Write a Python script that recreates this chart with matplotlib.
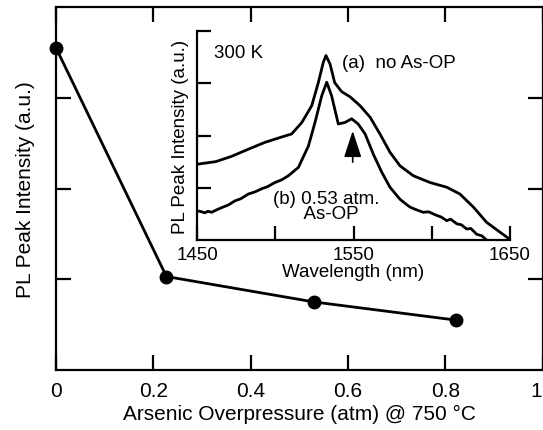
import matplotlib
matplotlib.use("Agg")
import matplotlib.pyplot as plt

plt.rcParams['font.family'] = ['Liberation Sans', 'DejaVu Sans']

# Main data
pressure = [0.0, 0.227, 0.53, 0.822]
intensity = [3.55, 1.03, 0.75, 0.55]
xticks_main = [0, 0.2, 0.4, 0.6, 0.8, 1]
xticklabels_main = ["0", "0.2", "0.4", "0.6", "0.8", "1"]

# Inset spectra
wl_a = [1450, 1462, 1472, 1483, 1493.5, 1504, 1510.5, 1517, 1523.3, 1527.5, 1530.7,
        1532.4, 1535, 1538, 1542.4, 1547.8, 1554.2, 1560.6, 1566.9, 1573.3, 1579.7,
        1588.2, 1598.9, 1609.6, 1618, 1626.6, 1635, 1643.6, 1649.6]
int_a = [1.45, 1.50, 1.60, 1.74, 1.87, 1.97, 2.03, 2.25, 2.57, 3.01, 3.40,
         3.53, 3.37, 3.01, 2.84, 2.74, 2.57, 2.35, 2.03, 1.68, 1.42,
         1.23, 1.10, 1.01, 0.88, 0.63, 0.34, 0.15, 0.02]
wl_b = [1450, 1453, 1455, 1457, 1459.4, 1462, 1465.8, 1470, 1474.3, 1478, 1482.8,
        1487, 1491.3, 1495, 1499.8, 1504, 1508.4, 1514.8, 1521.2, 1525.4, 1529.7,
        1532.9, 1536, 1540.3, 1544.6, 1548.8, 1553, 1557.4, 1562.7, 1568, 1573.3,
        1579.7, 1583, 1586.1, 1590, 1594.6, 1598, 1603.2, 1606, 1609.6, 1612,
        1616, 1619, 1622.3, 1625, 1628.7, 1632, 1635]
int_b = [0.56, 0.54, 0.52, 0.55, 0.53, 0.57, 0.62, 0.67, 0.75, 0.79, 0.88,
         0.92, 0.98, 1.02, 1.10, 1.15, 1.23, 1.39, 1.80, 2.25, 2.76,
         3.02, 2.76, 2.22, 2.25, 2.32, 2.22, 2.03, 1.64, 1.30, 1.01,
         0.78, 0.70, 0.63, 0.58, 0.53, 0.54, 0.47, 0.44, 0.37, 0.40,
         0.31, 0.29, 0.21, 0.22, 0.11, 0.08, 0.0]
inset_xticks = [1450, 1500, 1550, 1600, 1650]
inset_xticklabels = ["1450", "", "1550", "", "1650"]

fig = plt.figure(figsize=(5.43, 4.31), dpi=100)
ax = fig.add_axes([56/543, (431-371)/431, (542.5-56)/543, (371-8)/431])
ax.plot(pressure, intensity, color='black', lw=2.0, marker='o', ms=9,
        markerfacecolor='black', clip_on=False, zorder=3)
ax.set_xlim(0, 1)
ax.set_ylim(0, 4)
ax.set_xticks(xticks_main)
ax.set_xticklabels(xticklabels_main)
ax.get_xticklabels()[-1].set_ha('right')
ax.set_yticks([1, 2, 3])
ax.set_yticklabels([])
ax.tick_params(direction='in', length=11, width=1.6, top=True, right=True,
               labelsize=15, pad=8)
for s in ax.spines.values():
    s.set_linewidth(1.6)
ax.set_xlabel("Arsenic Overpressure (atm) @ 750 °C", fontsize=15, labelpad=3)
ax.set_ylabel("PL Peak Intensity (a.u.)", fontsize=15, labelpad=7)

# Inset
ins = fig.add_axes([197/543, (431-241)/431, 313/543, 209/431])
ins.patch.set_alpha(0)
ins.plot(wl_a, int_a, color='black', lw=2.0)
ins.plot(wl_b, int_b, color='black', lw=2.0)
ins.set_xlim(1450, 1650)
ins.set_ylim(0, 4)
ins.set_xticks(inset_xticks)
ins.set_xticklabels(inset_xticklabels)
ins.set_yticks([1, 2, 3, 4])
ins.set_yticklabels([])
ins.spines['top'].set_visible(False)
ins.spines['right'].set_visible(False)
for s in ['left', 'bottom']:
    ins.spines[s].set_linewidth(1.6)
ins.tick_params(direction='in', length=10, width=1.6, labelsize=13.5, pad=4)
ins.set_xlabel("Wavelength (nm)", fontsize=13.5, labelpad=0)
ins.set_ylabel("PL Peak Intensity (a.u.)", fontsize=13.5, labelpad=2)
ins.text(1461, 3.59, "300 K", fontsize=13.5, va='center')
ins.text(1542.7, 3.40, "(a)  no As-OP", fontsize=13.5, va='center')
ins.text(1532.8, 0.645, "(b) 0.53 atm.\n  As-OP", fontsize=13.5, va='center',
         ha='center', multialignment='center', linespacing=0.82)
ins.annotate("", xy=(1549.5, 2.09), xytext=(1549.5, 1.49),
             arrowprops=dict(arrowstyle='-|>,head_length=0.82,head_width=0.27',
                             mutation_scale=20, color='black', lw=1.2,
                             shrinkA=0, shrinkB=0))

fig.savefig("out.png", dpi=100)
